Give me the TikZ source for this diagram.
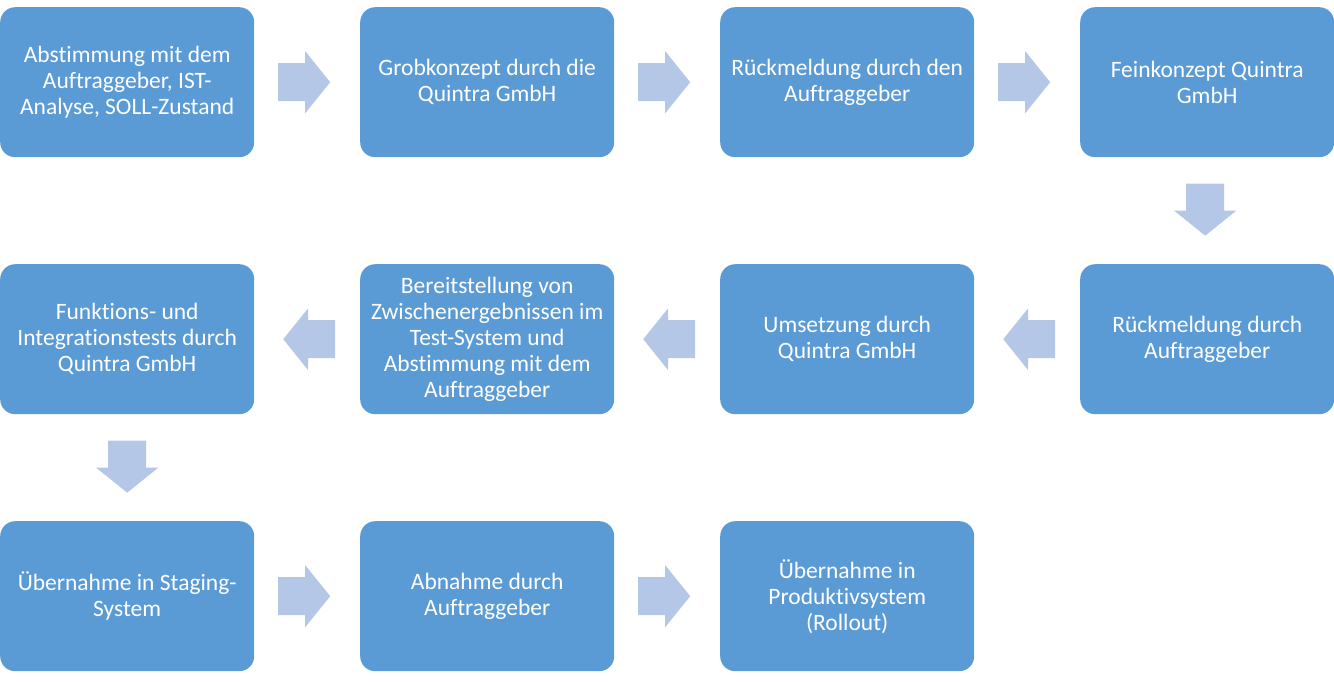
\documentclass[tikz,border=0pt]{standalone}
\usepackage{fontspec}
\setmainfont{Carlito}[Ligatures={NoCommon}]
\usetikzlibrary{calc}
\definecolor{boxblue}{HTML}{5B9BD5}
\definecolor{arrowblue}{HTML}{B4C7E7}
\tikzset{
  procbox/.style={fill=boxblue, draw=none, rounded corners=15pt, minimum width=254pt, minimum height=150pt,
    text=white, align=center, font=\fontsize{23.5}{26}\selectfont, anchor=north west, inner sep=0pt},
  blockarrow/.pic={\fill[arrowblue] (-27pt,-19pt) -- (0pt,-19pt) -- (0pt,-31pt) -- (25pt,0pt) -- (0pt,31pt) -- (0pt,19pt) -- (-27pt,19pt) -- cycle;}
}
\begin{document}
\begin{tikzpicture}
\useasboundingbox (0pt,0pt) rectangle (1334pt,-681pt);
% row 1
\node[procbox] (a1) at (0pt,-7pt) {Abstimmung mit dem\\Auftraggeber, IST-\\Analyse, SOLL-Zustand};
\node[procbox] (a2) at (360pt,-7pt) {Grobkonzept durch die\\Quintra GmbH};
\node[procbox] (a3) at (720pt,-7pt) {Rückmeldung durch den\\Auftraggeber};
\node[procbox] (a4) at (1080pt,-7pt) {Feinkonzept Quintra\\GmbH};
% row 2
\node[procbox] (b4) at (1080pt,-264pt) {Rückmeldung durch\\Auftraggeber};
\node[procbox] (b3) at (720pt,-264pt) {Umsetzung durch\\Quintra GmbH};
\node[procbox] (b2) at (360pt,-264pt) {Bereitstellung von\\Zwischenergebnissen im\\Test-System und\\Abstimmung mit dem\\Auftraggeber};
\node[procbox] (b1) at (0pt,-264pt) {Funktions- und\\Integrationstests durch\\Quintra GmbH};
% row 3
\node[procbox] (c1) at (0pt,-521pt) {Übernahme in Staging-\\System};
\node[procbox] (c2) at (360pt,-521pt) {Abnahme durch\\Auftraggeber};
\node[procbox] (c3) at (720pt,-521pt) {Übernahme in\\Produktivsystem\\(Rollout)};
% arrows
\pic[xshift=-2pt] at ($(a1.east)!0.5!(a2.west)$) {blockarrow};
\pic[xshift=-2pt] at ($(a2.east)!0.5!(a3.west)$) {blockarrow};
\pic[xshift=-2pt] at ($(a3.east)!0.5!(a4.west)$) {blockarrow};
\pic[rotate=-90, yshift=-2pt] at ($(a4.south)!0.5!(b4.north)$) {blockarrow};
\pic[rotate=180, xshift=-1pt] at ($(b4.west)!0.5!(b3.east)$) {blockarrow};
\pic[rotate=180, xshift=-1pt] at ($(b3.west)!0.5!(b2.east)$) {blockarrow};
\pic[rotate=180, xshift=-1pt] at ($(b2.west)!0.5!(b1.east)$) {blockarrow};
\pic[rotate=-90] at ($(b1.south)!0.5!(c1.north)$) {blockarrow};
\pic[xshift=-2pt] at ($(c1.east)!0.5!(c2.west)$) {blockarrow};
\pic[xshift=-2pt] at ($(c2.east)!0.5!(c3.west)$) {blockarrow};
\end{tikzpicture}
\end{document}
